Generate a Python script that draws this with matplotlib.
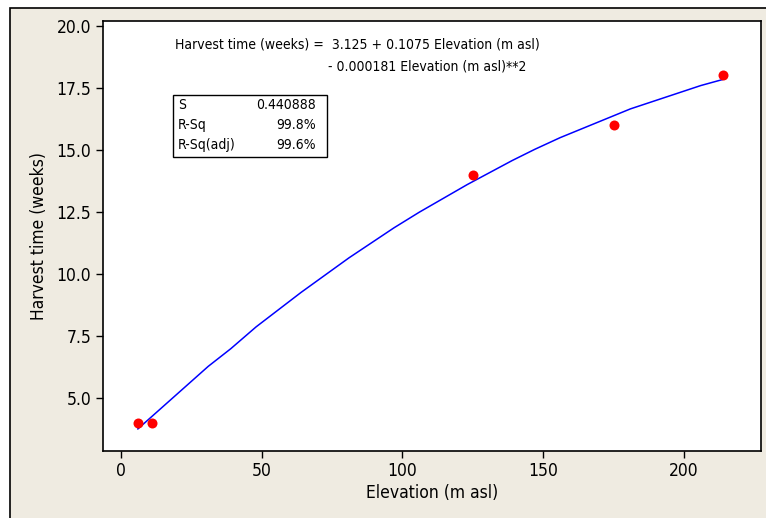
import matplotlib
matplotlib.use("Agg")
import matplotlib.pyplot as plt
from matplotlib.patches import Rectangle

# observed points
elevation = [6, 11, 125, 175, 214]
harvest_weeks = [4.0, 4.0, 14.0, 16.0, 18.0]

# fitted line vertices as drawn
fit_x = [6, 31, 39, 48, 64, 81, 97, 106, 123, 139, 147, 156, 181, 206, 214]
fit_y = [3.76, 6.28, 6.99, 7.87, 9.26, 10.65, 11.86, 12.49, 13.60, 14.57, 15.02, 15.49, 16.65, 17.59, 17.84]

x_ticks = [0, 50, 100, 150, 200]
y_ticks = [5.0, 7.5, 10.0, 12.5, 15.0, 17.5, 20.0]

stats_names = ["S", "R-Sq", "R-Sq(adj)"]
stats_values = ["0.440888", "99.8%", "99.6%"]

eq_line1 = "Harvest time (weeks) =  3.125 + 0.1075 Elevation (m asl)"
eq_line2 = "- 0.000181 Elevation (m asl)**2"

W, H = 766, 518
plt.rcParams['font.family'] = ['DejaVu Sans']
plt.rcParams['font.stretch'] = 'condensed'
fig = plt.figure(figsize=(W / 100, H / 100), dpi=100, facecolor='white')

# beige panel with black border on left/top
bg = Rectangle((10 / W, -0.1), 1, 1.1 - 8 / H, transform=fig.transFigure,
               facecolor='#EFEBE1', edgecolor='black', linewidth=1.2, zorder=-10)
fig.patches.append(bg)

ax = fig.add_axes([103 / W, 1 - 451 / H, (761 - 103) / W, (451 - 21) / H])
ax.set_facecolor('white')

ax.plot(fit_x, fit_y, color='#0000FF', linewidth=1.1)
ax.plot(elevation, harvest_weeks, 'o', color='#FF0000', markersize=7.2,
        markeredgewidth=0)

ax.set_xlim(-6.4, 227.4)
ax.set_ylim(2.87, 20.19)
ax.set_xticks(x_ticks)
ax.set_yticks(y_ticks)
ax.set_yticklabels(["%.1f" % v for v in y_ticks])
ax.tick_params(direction='out', length=5, width=1, labelsize=12.5,
               colors='black')
ax.tick_params(axis='x', pad=3)
for s in ax.spines.values():
    s.set_linewidth(1.2)

ax.set_xlabel("Elevation (m asl)", fontsize=12.5, labelpad=2.5)
ax.set_ylabel("Harvest time (weeks)", fontsize=12.5, labelpad=6)

# regression equation
fig.text(175 / W, 1 - 45 / H, eq_line1, fontsize=10, va='center', ha='left')
fig.text(328 / W, 1 - 67 / H, eq_line2, fontsize=10, va='center', ha='left')

# summary box
box = Rectangle((173 / W, 1 - 157 / H), (327 - 173) / W, (157 - 95) / H,
                transform=fig.transFigure, facecolor='white',
                edgecolor='black', linewidth=1.0, zorder=5)
fig.patches.append(box)
row_y = [105, 125, 145]
for name, val, yy in zip(stats_names, stats_values, row_y):
    fig.text(178 / W, 1 - yy / H, name, fontsize=10, va='center', ha='left', zorder=6)
    fig.text(316 / W, 1 - yy / H, val, fontsize=10, va='center', ha='right', zorder=6)

fig.savefig("out.png", dpi=100, facecolor=fig.get_facecolor())
